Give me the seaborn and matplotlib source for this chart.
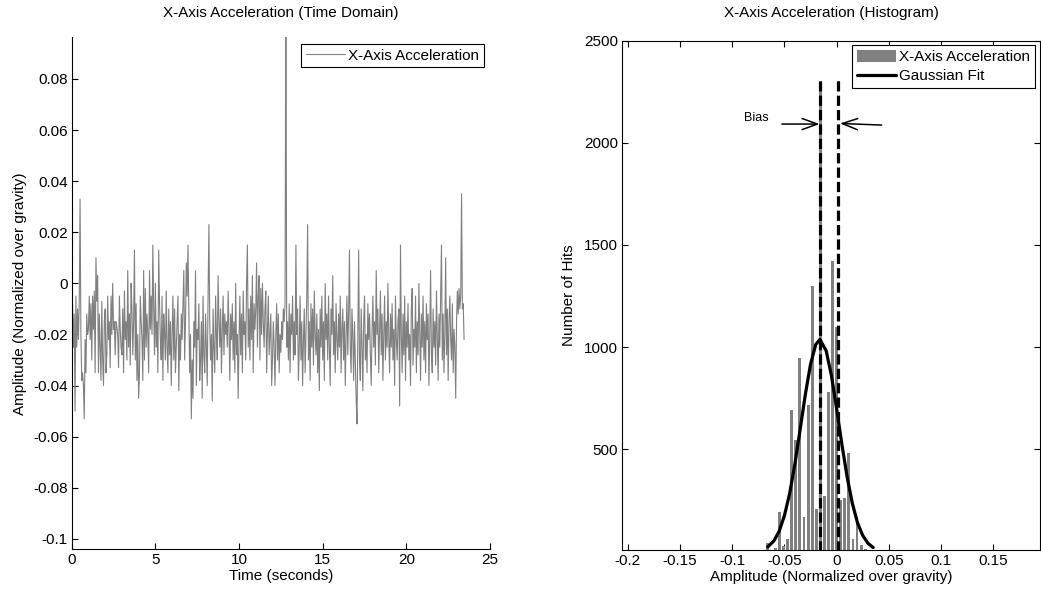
import numpy as np
import matplotlib
matplotlib.use("Agg")
import matplotlib.pyplot as plt
from matplotlib.lines import Line2D
from matplotlib.patches import Patch
import seaborn as sns

# --- time domain data (milli-g, one value per 0.05 s sample) ---
sample_period_s = 0.05
accel_mg = [
    -15, -8, -25, -12, -50, -5, -25, -10, -22, -8, 33, -20, -38, -35, -40, -53, -22, -35, -12, -20,   # 0 s
    -18, -5, -22, -8, -30, -5, -18, -3, -35, 10, -7, 3, -35, -12, -25, -38, -7, -30, -40, -15,        # 1 s
    -10, -35, -28, -5, -22, -15, -33, -5, -20, 0, -18, -15, -28, -15, -17, -20, -33, -5, -18, -25,    # 2 s
    -28, -10, -35, -3, -22, -15, -30, 5, -25, -12, -32, 0, -10, -28, -15, 13, -30, -8, -38, -20,      # 3 s
    -45, -35, -5, -15, -22, -38, 5, -30, -2, -25, -12, -20, -35, 5, -18, -5, -20, 15, -10, -28,       # 4 s
    0, -25, -15, -35, 13, -8, -22, -30, -5, -38, -12, -20, -30, -3, -25, -35, -10, -28, -15, -40,     # 5 s
    -20, -5, -30, -10, -35, -25, -15, -5, -42, -20, -30, -12, -22, -8, 5, -30, -15, 8, -5, 15,        # 6 s
    -10, -35, -20, -53, -30, -45, -15, -25, 5, -40, -18, -22, -8, -38, -30, -15, -45, -5, -28, -35,   # 7 s
    -12, -25, -40, -5, 23, -15, -30, -20, -46, -10, -25, -35, -5, -20, -30, 3, -15, -25, -10, -35,    # 8 s
    -18, -5, -28, -12, -20, -15, -25, -3, -18, -38, -12, -22, -8, -30, -15, -35, 0, -28, -20, -45,    # 9 s
    -22, -5, -28, -12, -35, -3, -20, -15, -30, 0, 15, -25, -10, -30, -5, -22, 3, -35, -8, -18,        # 10 s
    -10, 8, -25, -5, 3, -30, -2, -20, 0, -15, -25, -10, -3, -35, -18, -5, -28, -20, -12, -40,         # 11 s
    -30, -15, -25, -40, -20, -8, -30, -12, -35, -20, -27, -15, -22, -10, -15, -8, 120, -25, -15, -30, # 12 s
    -8, -35, -12, -20, -5, -30, -15, -28, 15, -20, -10, -38, -25, -5, -30, -15, -40, -22, -10, -35,   # 13 s
    -20, -5, 23, -30, -15, -38, -8, -25, -10, -32, -3, -20, -28, -12, -35, -18, -42, -10, -25, -5,    # 14 s
    -30, -15, -38, 0, -22, -12, -30, -5, -25, -40, -10, -20, 3, -28, -15, -35, -8, -22, -30, -12,     # 15 s
    -25, -5, -35, -18, -10, -30, -15, -40, -20, -5, -28, -12, 13, -25, -35, -10, -20, -38, -15, -30,  # 16 s
    -45, -55, -20, 13, -30, -38, -10, -25, -42, -15, -5, -30, -20, -35, -8, -22, -12, -28, -40, -18,  # 17 s
    -5, -25, -15, -32, 5, -20, -10, -35, -18, -3, -28, -12, -38, -20, -5, -30, -15, -25, 0, -22,      # 18 s
    -35, -12, -25, -8, -30, -18, -40, -5, -22, -30, -15, -10, -48, 15, -20, -35, -12, -28, -5, -38,   # 19 s
    -15, -25, -8, -30, -20, -40, -10, -2, -32, -18, -25, -5, -35, -15, -28, 0, -20, -38, -12, -25,    # 20 s
    -5, -30, -15, -35, -8, -22, -12, -40, -20, 5, -28, -35, -10, -25, -15, -32, -3, -20, -38, -12,    # 21 s
    -25, -5, 15, -30, -12, -35, -20, 10, -28, -10, -38, -15, -5, -22, -30, -8, -35, -18, -25, -45,    # 22 s
    -15, -3, -12, -2, -10, -5, 35, -10, -8, -22,                                                      # 23 s
]

# --- histogram (bin centre in g, number of hits) ---
hist_centers = [-0.0742, -0.0664, -0.0586, -0.0547, -0.0508, -0.0469, -0.0430, -0.0391,
                -0.0352, -0.0313, -0.0273, -0.0234, -0.0195, -0.0156, -0.0117, -0.0078,
                -0.0039, 0.0000, 0.0039, 0.0078, 0.0117, 0.0156, 0.0195, 0.0234, 0.0273]
hist_counts = [8, 40, 15, 195, 25, 60, 690, 545,
               945, 170, 715, 1300, 210, 2300, 270, 780,
               1420, 1100, 250, 260, 480, 60, 170, 30, 10]

# --- gaussian fit curve ---
fit_x = [-0.066, -0.060, -0.055, -0.050, -0.045, -0.040, -0.035, -0.030, -0.025, -0.020, -0.016,
         -0.010, -0.005, 0.000, 0.005, 0.010, 0.015, 0.020, 0.025, 0.030, 0.035]
fit_y = [22, 52, 99, 175, 283, 427, 595, 767, 916, 1013, 1038,
         982, 861, 699, 525, 366, 236, 140, 78, 40, 19]

# dashed markers: mean of the data and zero, plus bias arrows
bias_lines_x = [-0.0156, 0.0013]
bias_lines_top = [2311, 2324]

sns.set_theme(style="ticks")
plt.rcParams["font.family"] = ["Liberation Sans", "DejaVu Sans"]
plt.rcParams.update({
    "font.size": 11,
    "axes.labelsize": 11,
    "xtick.labelsize": 11,
    "ytick.labelsize": 11,
    "xtick.direction": "in",
    "ytick.direction": "in",
    "xtick.major.size": 4,
    "ytick.major.size": 4,
    "xtick.major.width": 0.8,
    "ytick.major.width": 0.8,
    "xtick.major.pad": 3,
    "ytick.major.pad": 3,
    "axes.linewidth": 0.8,
    "axes.edgecolor": "black",
    "xtick.color": "black",
    "ytick.color": "black",
    "text.color": "black",
    "axes.labelcolor": "black",
})

gray = "#808080"
W, H = 1041, 592
fig = plt.figure(figsize=(W / 100, H / 100), dpi=100)
ax1 = fig.add_axes([71.7 / W, 1 - 549.3 / H, (490 - 71.7) / W, (549.3 - 37.3) / H])
ax2 = fig.add_axes([622.3 / W, 1 - 550.3 / H, (1040 - 622.3) / W, (550.3 - 40.7) / H])

# left: time domain
accel_g = np.array(accel_mg) / 1000.0
time_s = np.arange(len(accel_g)) * sample_period_s
sns.lineplot(x=time_s, y=accel_g, color=gray, lw=0.8, estimator=None, ax=ax1)
ax1.set_xlim(0, 25)
ax1.set_ylim(-0.1041, 0.0963)
ax1.set_xticks([0, 5, 10, 15, 20, 25])
yt = [-0.1, -0.08, -0.06, -0.04, -0.02, 0, 0.02, 0.04, 0.06, 0.08]
ax1.set_yticks(yt)
ax1.set_yticklabels([f"{v:g}" for v in yt])
ax1.spines["top"].set_visible(False)
ax1.spines["right"].set_visible(False)
ax1.tick_params(top=False, right=False)
ax1.set_xlabel("Time (seconds)", labelpad=1)
ax1.set_ylabel("Amplitude (Normalized over gravity)", labelpad=4)
leg1 = ax1.legend(handles=[Line2D([], [], color=gray, lw=0.8)], labels=["X-Axis Acceleration"],
                  loc="upper right", bbox_to_anchor=(484 / W, 1 - 44 / H), bbox_transform=fig.transFigure,
                  borderaxespad=0, fancybox=False, edgecolor="black", framealpha=1,
                  handlelength=2.6, handletextpad=0.2, borderpad=0.3, fontsize=11)
leg1.get_frame().set_linewidth(0.8)

# right: histogram
sns.histplot(x=hist_centers, weights=hist_counts, binwidth=1 / 256,
             binrange=(-19.5 / 256, 7.5 / 256), shrink=0.7, color=gray,
             alpha=1, linewidth=0, edgecolor="none", ax=ax2)
sns.lineplot(x=fit_x, y=fit_y, color="black", lw=2.3, estimator=None, ax=ax2)
for bx, bt in zip(bias_lines_x, bias_lines_top):
    ax2.plot([bx, bx], [0, bt], color="black", lw=2.3, linestyle=(0, (3.2, 1.3)))
arrow = dict(arrowstyle="->,head_length=0.55,head_width=0.2", lw=1.1, color="black",
             shrinkA=0, shrinkB=0, mutation_scale=20)
ax2.annotate("", xy=(-0.0163, 2092), xytext=(-0.0524, 2092), arrowprops=arrow)
ax2.annotate("", xy=(0.0032, 2095), xytext=(0.0431, 2087), arrowprops=arrow)
ax2.text(-0.0766, 2122, "Bias", fontsize=9, ha="center", va="center")

ax2.set_xlim(-0.2052, 0.1947)
ax2.set_ylim(5.6, 2500)
xt = [-0.2, -0.15, -0.1, -0.05, 0, 0.05, 0.1, 0.15]
ax2.set_xticks(xt)
ax2.set_xticklabels([f"{v:g}" for v in xt])
ax2.set_yticks([500, 1000, 1500, 2000, 2500])
ax2.tick_params(top=True, right=True)
ax2.set_xlabel("Amplitude (Normalized over gravity)", labelpad=1)
ax2.set_ylabel("Number of Hits", labelpad=6)
leg2 = ax2.legend(handles=[Patch(facecolor=gray, edgecolor="none"), Line2D([], [], color="black", lw=2.3)],
                  labels=["X-Axis Acceleration", "Gaussian Fit"],
                  loc="upper right", bbox_to_anchor=(1035 / W, 1 - 45 / H), bbox_transform=fig.transFigure,
                  borderaxespad=0, fancybox=False, edgecolor="black", framealpha=1,
                  handlelength=2.6, handleheight=0.9, handletextpad=0.2, borderpad=0.3,
                  labelspacing=0.3, fontsize=11)
leg2.get_frame().set_linewidth(0.8)

fig.text(281 / W, 1 - 13.3 / H, "X-Axis Acceleration (Time Domain)", ha="center", va="center", fontsize=11)
fig.text(831 / W, 1 - 13.3 / H, "X-Axis Acceleration (Histogram)", ha="center", va="center", fontsize=11)

fig.savefig("out.png", dpi=100)
